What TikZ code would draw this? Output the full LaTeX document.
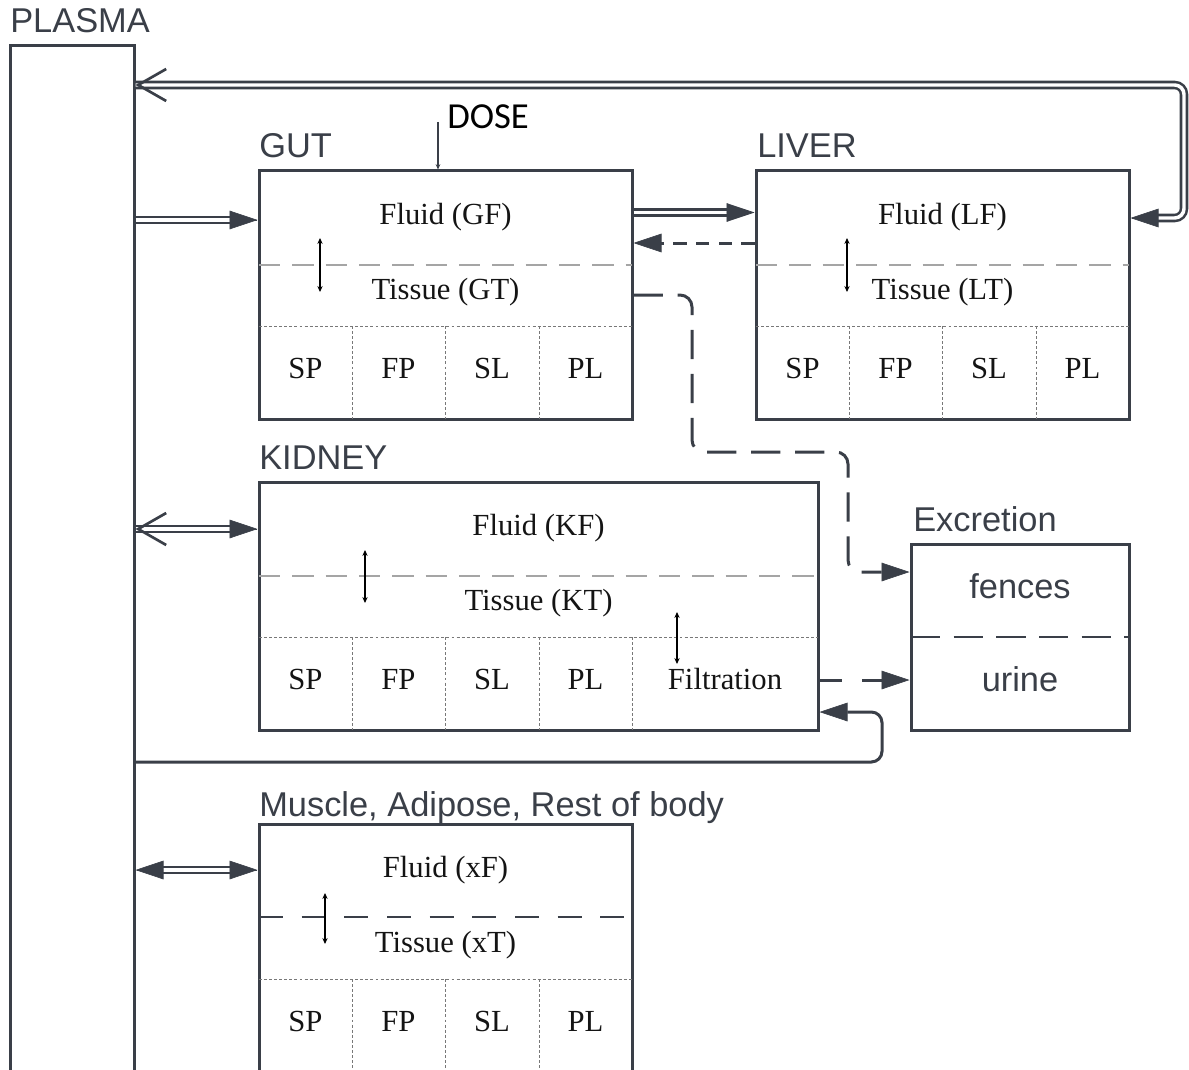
\documentclass[tikz,border=0pt]{standalone}
\usepackage{fontspec}
\newfontfamily\lblfont{Liberation Sans}
\newfontfamily\serfont{Liberation Serif}
\newfontfamily\dosefont{Carlito}
\usetikzlibrary{arrows.meta,calc,fit}
\definecolor{dk}{RGB}{58,63,72}
\definecolor{lgray}{RGB}{165,165,165}
\definecolor{mgray}{RGB}{120,120,120}
\begin{document}
\begin{tikzpicture}[x=0.75pt,y=-0.75pt,
  box/.style={draw=dk,line width=2.25pt,inner sep=0pt,rectangle},
  lbl/.style={font=\lblfont\fontsize{25.8pt}{30pt}\selectfont,text=dk,anchor=base west,inner sep=0pt},
  sanc/.style={font=\lblfont\fontsize{25.8pt}{30pt}\selectfont,text=dk,anchor=base,inner sep=0pt},
  ser/.style={font=\serfont\fontsize{23pt}{27pt}\selectfont,text=black!92,anchor=base,inner sep=0pt},
  ldash/.style={draw=lgray,line width=1.4pt,dash pattern=on 16pt off 9pt},
  ddash/.style={draw=dk,line width=1.8pt,dash pattern=on 20pt off 11pt},
  dotl/.style={draw=mgray,line width=0.75pt,dash pattern=on 2.2pt off 1.6pt},
  dbl/.style={draw=dk,line width=1.9pt,double=white,double distance=2.6pt},
  conn/.style={draw=dk,line width=2.25pt},
  >={Triangle[length=21pt,width=14pt,line width=0.5pt]},
  tri/.style={draw=dk,fill=dk,line width=0.5pt,->},
  barb/.style={draw=dk,line width=2pt,-{Straight Barb[length=21pt,width=24pt]}},
  inar/.style={draw=black,line width=0.9pt,{Stealth[length=4.5pt,width=4pt]}-{Stealth[length=4.5pt,width=4pt]}}
]
\useasboundingbox (0,0) rectangle (1189,1070);
\clip (0,0) rectangle (1189,1070);

% boxes
\node[box, fit={(10,46) (134,1095)}] (plasma) {};
\node[box, fit={(259,171) (632,419)}] (gut) {};
\node[box, fit={(756,171) (1129,419)}] (liver) {};
\node[box, fit={(259,482) (818,730)}] (kidney) {};
\node[box, fit={(911,544) (1129,730)}] (excr) {};
\node[box, fit={(259,824) (632,1095)}] (muscle) {};

% labels
\node[lbl] (lplasma) at (10,33) {PLASMA};
\node[lbl] (lgut) at (259,158) {GUT};
\node[lbl] (lliver) at (757,158) {LIVER};
\node[lbl] (lkid) at (259,469) {KIDNEY};
\node[lbl] (lexc) at (913,531) {Excretion};
\node[lbl] (lmus) at (259,816) {Muscle, Adipose, Rest of body};
\node[font=\dosefont\fontsize{27.5pt}{32pt}\selectfont,anchor=base west,inner sep=0pt] (dose) at (447,129) {DOSE};

% gut internals
\draw[ldash] (259,265) -- (632,265);
\draw[dotl] (259,326) -- (632,326);
\foreach \x in {352,445,539} \draw[dotl] (\x,326) -- (\x,419);
\node[ser] (gf) at (445.5,224) {Fluid (GF)};
\node[ser] (gt) at (445.5,299) {Tissue (GT)};
\node[ser] (gsp) at (305.5,378) {SP};
\node[ser] (gfp) at (398.5,378) {FP};
\node[ser] (gsl) at (492,378) {SL};
\node[ser] (gpl) at (585.5,378) {PL};
\draw[inar] (320,238) -- (320,292);

% liver internals
\draw[ldash] (756,265) -- (1129,265);
\draw[dotl] (756,326) -- (1129,326);
\foreach \x in {849,942,1036} \draw[dotl] (\x,326) -- (\x,419);
\node[ser] (lf) at (942.5,224) {Fluid (LF)};
\node[ser] (lt) at (942.5,299) {Tissue (LT)};
\node[ser] (lsp) at (802.5,378) {SP};
\node[ser] (lfp) at (895.5,378) {FP};
\node[ser] (lsl) at (989,378) {SL};
\node[ser] (lpl) at (1082.5,378) {PL};
\draw[inar] (847,238) -- (847,292);

% kidney internals
\draw[ldash] (259,576) -- (818,576);
\draw[dotl] (259,637) -- (818,637);
\foreach \x in {352,445,539,632} \draw[dotl] (\x,637) -- (\x,730);
\node[ser] (kf) at (538.5,535) {Fluid (KF)};
\node[ser] (kt) at (538.5,610) {Tissue (KT)};
\node[ser] (ksp) at (305.5,689) {SP};
\node[ser] (kfp) at (398.5,689) {FP};
\node[ser] (ksl) at (492,689) {SL};
\node[ser] (kpl) at (585.5,689) {PL};
\node[ser] (kfil) at (725,689) {Filtration};
\draw[inar] (365,550) -- (365,603);
\draw[inar] (677,612) -- (677,664);

% excretion internals
\draw[ddash,line width=2pt,dash pattern=on 22pt off 10pt] (911,637) -- (1129,637);
\node[sanc] (fences) at (1020,598) {fences};
\node[sanc] (urine) at (1020,691) {urine};

% muscle internals
\draw[ddash,dash pattern=on 18pt off 14pt] (259,917) -- (632,917);
\draw[dotl] (259,979) -- (632,979);
\foreach \x in {352,445,539} \draw[dotl] (\x,979) -- (\x,1080);
\node[ser] (xf) at (445.5,877) {Fluid (xF)};
\node[ser] (xt) at (445.5,952) {Tissue (xT)};
\node[ser] (xsp) at (305.5,1031) {SP};
\node[ser] (xfp) at (398.5,1031) {FP};
\node[ser] (xsl) at (492,1031) {SL};
\node[ser] (xpl) at (585.5,1031) {PL};
\draw[inar] (325,893) -- (325,944);

% DOSE arrow
\coordinate (dosetop) at (438,122);
\draw[draw=dk,line width=1.2pt,-{Stealth[length=4pt,width=3.5pt]}] (dosetop) -- (gut.north -| dosetop);

% plasma -> gut
\draw[dbl,shorten >=20pt] (plasma.east |- 0,220) -- (gut.west |- 0,220);
\draw[tri] ($(gut.west |- 0,220)+(-1,0)$) -- (gut.west |- 0,220);

% liver <-> plasma loop
\draw[dbl,rounded corners=7pt,shorten >=20pt] (plasma.east |- 0,85) -- (1184,85) -- (1184,218) -- (liver.east |- 0,218);
\draw[tri] ($(liver.east |- 0,218)+(1,0)$) -- (liver.east |- 0,218);
\draw[barb] ($(plasma.east |- 0,85)+(1,0)$) -- (plasma.east |- 0,85);

% gut -> liver
\draw[dbl,shorten >=20pt] (gut.east |- 0,212.5) -- (liver.west |- 0,212.5);
\draw[tri] ($(liver.west |- 0,212.5)+(-1,0)$) -- (liver.west |- 0,212.5);

% liver -> gut (dashed)
\draw[conn,dash pattern=on 10pt off 7pt,->] (liver.west |- 0,243) -- (gut.east |- 0,243);

% gut tissue -> excretion (dashed)
\draw[conn,dash pattern=on 22pt off 11pt,rounded corners=9pt,->] (gut.east |- 0,295) -- (692,295) -- (692,452) -- (848,452) -- (848,572) -- (excr.west |- 0,572);

% plasma <-> kidney
\draw[dbl,shorten >=20pt] (plasma.east |- 0,529) -- (kidney.west |- 0,529);
\draw[tri] ($(kidney.west |- 0,529)+(-1,0)$) -- (kidney.west |- 0,529);
\draw[barb] ($(plasma.east |- 0,529)+(1,0)$) -- (plasma.east |- 0,529);

% kidney filtration -> urine (dashed)
\draw[conn,dash pattern=on 17pt off 15pt,->] (kidney.east |- 0,680) -- (excr.west |- 0,680);

% plasma -> kidney (return)
\draw[conn,rounded corners=8pt,->] (plasma.east |- 0,762) -- (882,762) -- (882,712) -- (kidney.east |- 0,712);

% plasma <-> muscle
\draw[dbl,shorten >=20pt,shorten <=20pt] (plasma.east |- 0,870) -- (muscle.west |- 0,870);
\draw[tri] ($(muscle.west |- 0,870)+(-1,0)$) -- (muscle.west |- 0,870);
\draw[tri] ($(plasma.east |- 0,870)+(1,0)$) -- (plasma.east |- 0,870);
\end{tikzpicture}
\end{document}
